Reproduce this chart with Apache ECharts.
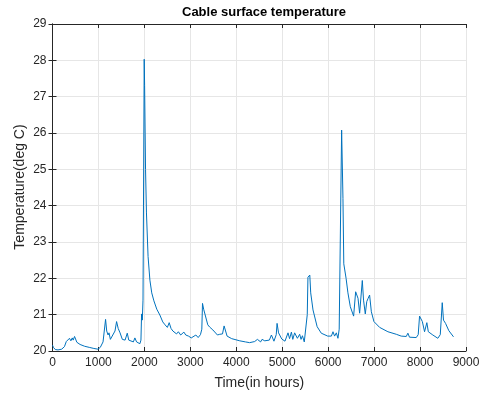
<!DOCTYPE html>
<html>
<head>
<meta charset="utf-8">
<script src="https://cdn.jsdelivr.net/npm/echarts@6/dist/echarts.min.js"></script>
<style>html,body{margin:0;padding:0;background:#fff;}#c{width:489px;height:396px;}</style>
</head>
<body>
<div id="c"></div>
<script>
var chartTitle = "Cable surface temperature";
var xLabel = "Time(in hours)";
var yLabel = "Temperature(deg C)";
var xTicks = [0, 1000, 2000, 3000, 4000, 5000, 6000, 7000, 8000, 9000];
var yTicks = [20, 21, 22, 23, 24, 25, 26, 27, 28, 29];

var hours = [0, 20, 60, 120, 200, 260, 300, 340, 370, 400, 430, 450, 480, 500, 530, 600, 700, 800, 900, 990,
  1040, 1100, 1155, 1180, 1210, 1230, 1260, 1300, 1360, 1395, 1430, 1470, 1520, 1580, 1627, 1660, 1700, 1760, 1793, 1830,
  1870, 1902, 1925, 1939, 1955, 1970, 1996, 2005, 2025, 2045, 2080, 2120, 2160, 2207, 2270, 2337, 2373, 2400, 2450, 2500,
  2540, 2580, 2620, 2700, 2740, 2790, 2830, 2860, 2900, 2960, 3020, 3060, 3120, 3170, 3220, 3250, 3265, 3290, 3315, 3380,
  3420, 3450, 3490, 3530, 3590, 3640, 3700, 3735, 3800, 3900, 4076, 4200, 4290, 4400, 4460, 4530, 4560, 4620, 4655, 4720,
  4765, 4820, 4870, 4888, 4920, 4990, 5060, 5126, 5160, 5200, 5230, 5270, 5330, 5380, 5410, 5440, 5480, 5520, 5545, 5560,
  5576, 5600, 5620, 5670, 5760, 5850, 5990, 6070, 6105, 6140, 6178, 6213, 6240, 6293, 6322, 6340, 6390, 6430, 6482, 6554,
  6598, 6625, 6650, 6685, 6743, 6770, 6808, 6840, 6870, 6902, 6940, 6996, 7120, 7300, 7483, 7590, 7700, 7735, 7770, 7917,
  7960, 7989, 8050, 8098, 8148, 8180, 8210, 8278, 8387, 8440, 8483, 8510, 8555, 8626, 8728];

var temps = [20.16, 20.10, 20.04, 20.03, 20.05, 20.12, 20.26, 20.22, 20.35, 20.28, 20.36, 20.30, 20.40, 20.38, 20.24, 20.18, 20.13, 20.10, 20.07, 20.05,
  20.10, 20.25, 20.87, 20.55, 20.44, 20.50, 20.32, 20.28, 20.55, 20.81, 20.62, 20.50, 20.32, 20.30, 20.49, 20.30, 20.27, 20.25, 20.36, 20.25,
  20.22, 20.20, 20.30, 21.02, 20.85, 21.40, 28.03, 27.30, 25.00, 23.80, 22.60, 21.95, 21.60, 21.38, 21.15, 20.99, 20.95, 20.80, 20.72, 20.65,
  20.78, 20.62, 20.55, 20.47, 20.53, 20.44, 20.42, 20.52, 20.44, 20.41, 20.36, 20.38, 20.44, 20.37, 20.45, 20.60, 21.31, 21.15, 21.13, 20.72,
  20.66, 20.70, 20.58, 20.55, 20.44, 20.46, 20.47, 20.69, 20.41, 20.34, 20.28, 20.25, 20.23, 20.26, 20.32, 20.25, 20.32, 20.28, 20.23, 20.30,
  20.44, 20.27, 20.45, 20.76, 20.50, 20.33, 20.27, 20.50, 20.34, 20.52, 20.32, 20.50, 20.35, 20.46, 20.32, 20.42, 20.25, 20.30, 21.00, 22.03,
  22.06, 22.09, 21.60, 21.13, 20.67, 20.49, 20.41, 20.41, 20.53, 20.41, 20.50, 20.35, 20.60, 26.08, 24.20, 22.40, 22.00, 21.60, 21.22, 20.96,
  21.63, 21.66, 21.45, 21.04, 21.94, 21.40, 21.02, 21.36, 21.45, 21.54, 21.08, 20.81, 20.65, 20.53, 20.46, 20.41, 20.40, 20.49, 20.38, 20.37,
  20.45, 20.96, 20.81, 20.53, 20.78, 20.53, 20.58, 20.44, 20.35, 20.45, 21.33, 20.85, 20.76, 20.56, 20.39];

var seriesData = hours.map(function (h, i) { return [h, temps[i]]; });

var fontFam = "'Liberation Sans', Arial, Helvetica, sans-serif";
var axisCol = '#262626';
var gridCol = '#e6e6e6';

var chart = echarts.init(document.getElementById('c'), null, { renderer: 'canvas' });
chart.setOption({
  animation: false,
  backgroundColor: '#ffffff',
  title: {
    text: chartTitle,
    left: 259, top: 1, textAlign: 'center',
    textStyle: { fontFamily: fontFam, fontSize: 13, fontWeight: 'bold', color: '#000' }
  },
  graphic: [{
    type: 'text', x: 20, y: 187, rotation: Math.PI / 2,
    style: { text: yLabel, fontFamily: fontFam, fontSize: 14, fill: axisCol, align: 'center', verticalAlign: 'middle' }
  }],
  grid: { left: 52.5, right: 23, top: 24, bottom: 45, containLabel: false },
  xAxis: [{
    type: 'value', min: xTicks[0], max: xTicks[xTicks.length - 1], interval: 1000,
    name: xLabel, nameLocation: 'middle', nameGap: 25,
    nameTextStyle: { fontFamily: fontFam, fontSize: 14, color: axisCol },
    axisLine: { show: true, lineStyle: { color: axisCol, width: 1 } },
    axisTick: { show: true, inside: true, length: 4, lineStyle: { color: axisCol } },
    axisLabel: { fontFamily: fontFam, fontSize: 12, color: axisCol, margin: 6,
      formatter: function (v) { return String(v); } },
    splitLine: { show: true, lineStyle: { color: gridCol, width: 1 } }
  }, {
    type: 'value', position: 'top', min: xTicks[0], max: xTicks[xTicks.length - 1], interval: 1000,
    axisLine: { show: true, lineStyle: { color: axisCol, width: 1 } },
    axisTick: { show: true, inside: true, length: 4, lineStyle: { color: axisCol } },
    axisLabel: { show: false }, splitLine: { show: false }
  }],
  yAxis: [{
    type: 'value', min: yTicks[0], max: yTicks[yTicks.length - 1], interval: 1,
    axisLine: { show: true, lineStyle: { color: axisCol, width: 1 } },
    axisTick: { show: true, inside: true, length: 4, lineStyle: { color: axisCol } },
    axisLabel: { fontFamily: fontFam, fontSize: 12, color: axisCol, margin: 6 },
    splitLine: { show: true, lineStyle: { color: gridCol, width: 1 } }
  }, {
    type: 'value', position: 'right', min: yTicks[0], max: yTicks[yTicks.length - 1], interval: 1,
    axisLine: { show: true, lineStyle: { color: axisCol, width: 1 } },
    axisTick: { show: true, inside: true, length: 4, lineStyle: { color: axisCol } },
    axisLabel: { show: false }, splitLine: { show: false }
  }],
  series: [{
    type: 'line', data: seriesData, xAxisIndex: 0, yAxisIndex: 0,
    showSymbol: false, symbol: 'none',
    lineStyle: { color: '#0072BD', width: 1 },
    itemStyle: { color: '#0072BD' }
  }]
});
</script>
</body>
</html>
